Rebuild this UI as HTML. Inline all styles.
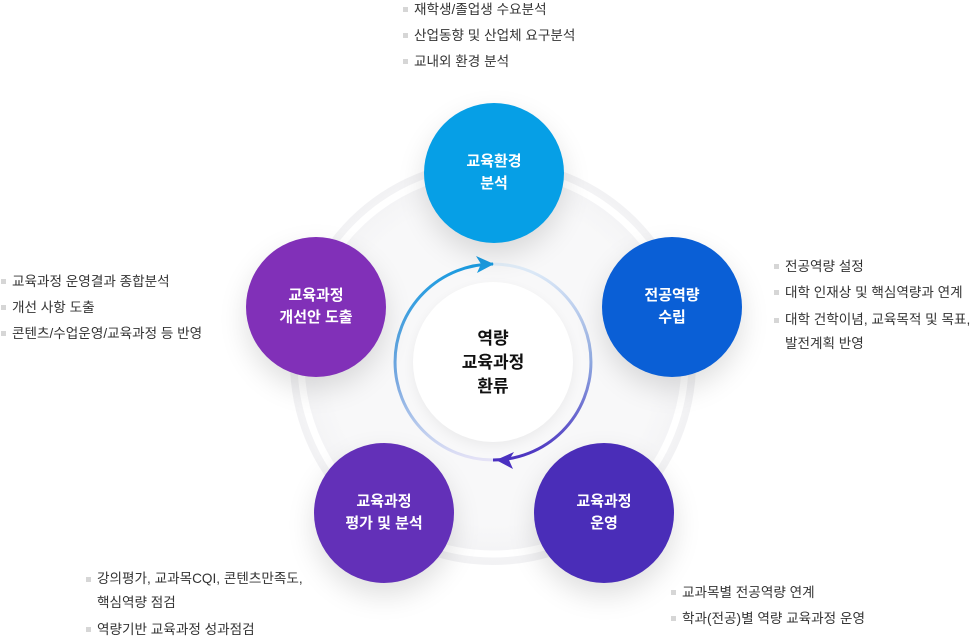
<!DOCTYPE html>
<html><head><meta charset="utf-8"><style>
*{margin:0;padding:0;box-sizing:border-box}
body{width:979px;height:644px;background:#fff;position:relative;overflow:hidden;font-family:"Liberation Sans","Noto Sans CJK KR",sans-serif}
.c{position:absolute;width:140px;height:140px;border-radius:50%;color:#fff;font-weight:bold;font-size:15px;line-height:22px;display:flex;align-items:center;justify-content:center;text-align:center;box-shadow:0 12px 28px rgba(0,0,0,0.13)}
.l{position:absolute;font-size:13.6px;color:#333;line-height:26px;white-space:nowrap}
.l div{position:relative;padding-left:11px}
.l div:before{content:"";position:absolute;left:0;top:10px;width:5px;height:5px;background:#d6d6d6}
</style></head><body>
<svg width="979" height="644" style="position:absolute;left:0;top:0">
<defs>
<radialGradient id="bg" cx="0.5" cy="0.5" r="0.5"><stop offset="0.8" stop-color="#f8f8f9"/><stop offset="1" stop-color="#f2f2f4"/></radialGradient>
<linearGradient id="gl" x1="0" y1="0" x2="0" y2="1"><stop offset="0" stop-color="#1a9be0"/><stop offset="0.6" stop-color="#7aa8e0"/><stop offset="1" stop-color="#e4e2f6"/></linearGradient>
<linearGradient id="gr" x1="0" y1="0" x2="0" y2="1"><stop offset="0" stop-color="#e2eef9"/><stop offset="0.5" stop-color="#8fa9e0"/><stop offset="1" stop-color="#4a30c0"/></linearGradient>
<filter id="sh" x="-20%" y="-20%" width="140%" height="140%"><feGaussianBlur stdDeviation="6"/></filter>
</defs>
<circle cx="493" cy="362" r="203" fill="url(#bg)"/>
<circle cx="493" cy="362" r="192" fill="none" stroke="#fff" stroke-width="7"/>
<circle cx="493" cy="366" r="80" fill="#000" opacity="0.05" filter="url(#sh)"/>
<circle cx="493" cy="362" r="80" fill="#fff"/>
<path d="M493 460 A98 98 0 0 1 493 264" fill="none" stroke="url(#gl)" stroke-width="3"/>
<path d="M493 264 A98 98 0 0 1 493 460" fill="none" stroke="url(#gr)" stroke-width="3"/>
<path d="M494 264 L476 256 L481 264 L477 273 Z" fill="#1a9be0"/>
<path d="M496 460 L514 452 L509 460 L513 469 Z" fill="#4a30c0"/>
</svg>
<div class="c" style="left:424px;top:103px;background:#069fe6">교육환경<br>분석</div>
<div class="c" style="left:602px;top:237px;background:#0a5fd6">전공역량<br>수립</div>
<div class="c" style="left:246px;top:237px;background:#8130b8">교육과정<br>개선안 도출</div>
<div class="c" style="left:314px;top:443px;background:#6330b8">교육과정<br>평가 및 분석</div>
<div class="c" style="left:534px;top:443px;background:#4a2db8">교육과정<br>운영</div>
<div style="position:absolute;left:413px;top:327px;width:160px;text-align:center;font-weight:bold;font-size:17px;line-height:24px;color:#111">역량<br>교육과정<br>환류</div>
<div class="l" style="left:403px;top:-3px"><div>재학생/졸업생 수요분석</div><div>산업동향 및 산업체 요구분석</div><div>교내외 환경 분석</div></div>
<div class="l" style="left:774px;top:254px"><div>전공역량 설정</div><div>대학 인재상 및 핵심역량과 연계</div><div style="line-height:24px;margin-top:2px">대학 건학이념, 교육목적 및 목표,<br>발전계획 반영</div></div>
<div class="l" style="left:1px;top:269px"><div>교육과정 운영결과 종합분석</div><div>개선 사항 도출</div><div>콘텐츠/수업운영/교육과정 등 반영</div></div>
<div class="l" style="left:86px;top:567px"><div style="line-height:24px">강의평가, 교과목CQI, 콘텐츠만족도,<br>핵심역량 점검</div><div style="margin-top:2px">역량기반 교육과정 성과점검</div></div>
<div class="l" style="left:671px;top:580px"><div>교과목별 전공역량 연계</div><div>학과(전공)별 역량 교육과정 운영</div></div>
</body></html>
